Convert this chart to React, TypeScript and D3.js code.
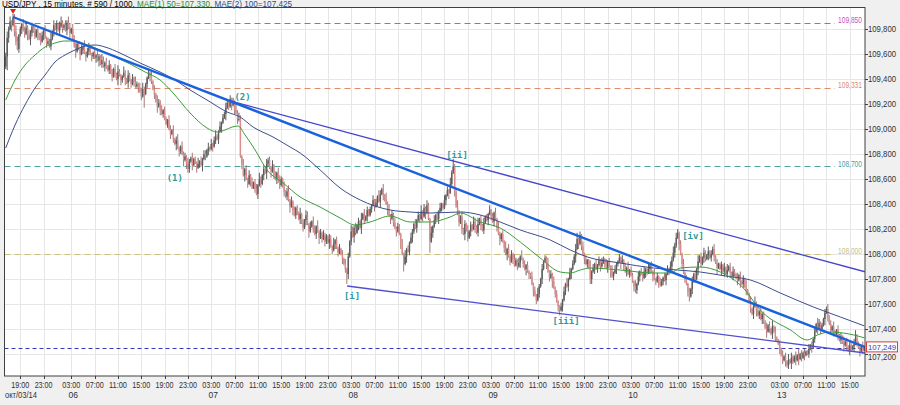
import React from 'react';
import * as d3 from 'd3';

// ---- data (prices in hundredths of a yen above BASE) ----
const BASE = 107;
const firstOpen = 250;
const closeHundredths: number[] = [
  258, 273, 280, 286, 283, 289, 278, 270, 264, 275,
  280, 284, 279, 276, 281, 275, 272, 277, 282, 278,
  274, 279, 276, 272, 270, 275, 279, 273, 268, 270,
  266, 272, 278, 283, 280, 284, 279, 282, 285, 281,
  283, 279, 285, 281, 277, 280, 274, 266, 262, 268,
  264, 260, 263, 266, 261, 258, 262, 265, 260, 258,
  261, 257, 259, 255, 258, 252, 255, 250, 253, 249,
  247, 251, 245, 242, 248, 244, 240, 246, 243, 239,
  242, 245, 240, 237, 243, 239, 236, 241, 238, 234,
  236, 233, 230, 226, 232, 228, 236, 241, 245, 243,
  238, 232, 228, 222, 218, 221, 215, 212, 215, 208,
  204, 207, 200, 196, 199, 192, 188, 191, 185, 182,
  186, 180, 175, 178, 172, 168, 174, 177, 171, 176,
  173, 169, 172, 174, 171, 176, 180, 178, 183, 185,
  184, 188, 186, 191, 194, 192, 198, 202, 205, 209,
  212, 217, 221, 218, 224, 219, 222, 215, 213, 208,
  208, 178, 172, 163, 168, 160, 156, 163, 158, 153,
  157, 152, 148, 155, 160, 156, 163, 168, 165, 172,
  175, 169, 166, 171, 163, 160, 165, 158, 155, 160,
  154, 150, 146, 150, 143, 138, 142, 135, 131, 137,
  133, 128, 132, 125, 121, 127, 131, 124, 118, 122,
  126, 120, 116, 122, 118, 113, 117, 112, 115, 110,
  114, 109, 112, 106, 103, 108, 111, 105, 101, 104,
  100, 96, 92, 88, 84, 98, 110, 118, 114, 121,
  117, 123, 126, 121, 128, 132, 127, 130, 135, 131,
  136, 139, 143, 138, 141, 146, 142, 148, 152, 147,
  144, 140, 136, 131, 128, 132, 125, 121, 118, 122,
  116, 108, 100, 92, 98, 104, 102, 109, 113, 118,
  124, 121, 127, 131, 128, 134, 130, 137, 133, 139,
  128, 110, 117, 122, 127, 131, 128, 134, 137, 140,
  137, 143, 147, 151, 149, 156, 165, 170, 150, 138,
  132, 125, 130, 120, 116, 124, 119, 113, 118, 123,
  120, 126, 122, 117, 124, 128, 123, 119, 125, 130,
  127, 132, 135, 130, 126, 133, 128, 121, 116, 112,
  116, 110, 105, 100, 104, 98, 94, 100, 96, 91,
  95, 90, 93, 98, 96, 92, 88, 91, 86, 84,
  82, 76, 71, 67, 63, 68, 74, 80, 88, 94,
  97, 92, 86, 81, 84, 78, 73, 68, 62, 58,
  55, 58, 63, 70, 76, 74, 80, 85, 88, 92,
  98, 104, 112, 108, 115, 106, 100, 96, 92, 95,
  90, 80, 86, 89, 92, 88, 91, 95, 90, 93,
  96, 92, 89, 94, 90, 86, 82, 85, 88, 92,
  94, 97, 93, 95, 90, 86, 89, 84, 87, 83,
  78, 74, 71, 76, 82, 86, 84, 81, 86, 88,
  85, 88, 91, 86, 83, 80, 78, 82, 77, 75,
  78, 81, 79, 84, 88, 86, 90, 95, 101, 107,
  113, 117, 108, 100, 92, 85, 80, 76, 70, 66,
  72, 78, 84, 80, 88, 94, 98, 92, 97, 101,
  96, 99, 102, 97, 100, 104, 98, 93, 89, 92,
  88, 91, 86, 89, 84, 87, 90, 85, 82, 86,
  84, 81, 79, 83, 78, 76, 80, 74, 71, 68,
  62, 56, 52, 58, 61, 55, 51, 54, 48, 52,
  46, 41, 38, 43, 40, 36, 42, 38, 33, 31,
  28, 24, 19, 15, 18, 14, 11, 15, 13, 17,
  14, 18, 15, 19, 16, 20, 17, 21, 19, 22,
  20, 24, 27, 25, 32, 38, 44, 41, 45, 40,
  43, 48, 53, 56, 50, 44, 39, 42, 38, 36,
  39, 35, 31, 34, 29, 27, 30, 26, 23, 27,
  24, 26, 28, 33, 29, 25, 22, 26, 23, 24.9,
];

// upper / lower wick lengths in hundredths, one digit per bar
const hiWick =
  '3524163541 2143524231 4131532413 2514131452 1425314132 2141513421 1314215314 2413141521 1521421314 2143521151 ' +
  '4131532413 2143141351 1423152141 2151413314 1413521413 2431413152 5314131413 1341521314 2314131452 1413514131 ' +
  '2151314314 1431513142 2143151314 1314131542 4131514131 2141315314 1524131413 2141513142 1413151314 2151413141 ' +
  '1413152521 5314131413 1431513141 2141314152 1315141314 2141513131 1413152141 2151314131 1314151413 2451314131 ' +
  '1513141314 2141315131 1314131513 2151413141 1413151314 2141314352 4313141313 1413151314 2141314131 1314151314 ' +
  '2141313151 1413514131 2141315141 1314131514 2141513131 1413141531 2131413141 1413151314 2141313141';
const loWick =
  '2141514313 1413141531 2151314131 1314151314 2141413151 1513141314 2141513141 1314131514 2151413141 1413141315 ' +
  '2141514131 1314131514 2151413141 1413151314 2141314151 1513141314 2141513141 1314131415 2151314131 1413151413 ' +
  '2141314151 1314151314 2151314131 1413141315 2141513141 1314131514 2151413141 1413151314 2141314151 1514131413 ' +
  '2141513141 1314151314 2151314131 1413141315 2141513141 1314131514 2151413141 1413151314 2141314151 1514131413 ' +
  '2141513141 1314151314 2151314131 1413141315 2141513141 1314131514 2151413141 1413151314 2141314151 1514131413 ' +
  '2141513141 1314151314 2151314131 1413141315 2141513141 1314131514 2151413141 1413151314 2141314131';
const highSpikeBars = [5, 98, 154, 307, 394, 461, 485, 563, 583];
const highSpikeValues = [292, 248, 227, 176, 118, 120, 106, 58, 39];
const lowSpikeBars = [1, 95, 125, 234, 273, 291, 364, 380, 401, 432, 469, 536];
const lowSpikeValues = [247, 217, 165, 76, 86, 101, 60, 51, 76, 69, 62, 9];

// moving averages (bar index, price)
const ma50Bars = [0, 6.4, 13.2, 20.1, 27, 33.8, 40.7, 47.5, 54.4, 64.7, 75, 85.3, 95.6, 105.9, 114.8, 126.5, 138.1, 145, 150.5, 155.3, 159.4, 164.2, 171.1, 179.3, 190.3, 202, 215.7, 229.4, 239.7, 250, 263.7, 277.5, 291.2, 304.9, 311.8, 325.5, 339.2, 353, 366.7, 380.4, 387.3, 394.2, 401, 421.6, 444.3, 455.9, 462.8, 476.5, 490.2, 504, 519.7, 538.3, 549.9, 556.8, 565.7, 574.6, 589];
const ma50Values = [109.232, 109.392, 109.512, 109.592, 109.656, 109.688, 109.704, 109.704, 109.68, 109.632, 109.576, 109.52, 109.456, 109.392, 109.288, 109.128, 109.008, 108.976, 108.992, 109.016, 109.024, 108.952, 108.832, 108.672, 108.568, 108.456, 108.376, 108.288, 108.232, 108.256, 108.304, 108.256, 108.256, 108.296, 108.328, 108.256, 108.208, 108.096, 107.968, 107.856, 107.848, 107.872, 107.888, 107.872, 107.848, 107.848, 107.888, 107.896, 107.856, 107.752, 107.528, 107.392, 107.312, 107.352, 107.376, 107.368, 107.33];
const ma100Bars = [0, 6.4, 13.2, 20.1, 27, 33.8, 40.7, 47.5, 54.4, 61.3, 68.1, 78.4, 92.2, 105.9, 116.2, 126.5, 138.1, 151.9, 160.8, 169.7, 183.4, 195.1, 202, 215.7, 229.4, 243.2, 263.7, 277.5, 291.2, 311.8, 325.5, 339.2, 353, 373.6, 387.3, 399, 421.6, 444.3, 460.7, 476.5, 493.7, 510.9, 531.4, 554.1, 572.6, 589];
const ma100Values = [108.848, 109.032, 109.192, 109.328, 109.432, 109.536, 109.592, 109.632, 109.664, 109.672, 109.656, 109.608, 109.528, 109.456, 109.392, 109.312, 109.232, 109.136, 109.096, 109.016, 108.936, 108.856, 108.808, 108.672, 108.528, 108.432, 108.352, 108.336, 108.328, 108.336, 108.312, 108.256, 108.192, 108.112, 108.032, 107.976, 107.928, 107.888, 107.872, 107.856, 107.824, 107.792, 107.688, 107.576, 107.496, 107.425];

// trend lines: [bar0, price0, bar1, price1]
const trendMain = [5, 109.896, 589.5, 107.256];
const trendUpper = [154, 109.224, 589.5, 107.858];
const trendLower = [234.2, 107.744, 589.5, 107.208];

// horizontal levels
const levelValues = [109.85, 109.331, 108.7, 108.0];
const levelColors = ['#c455c4', '#e08a6a', '#4aa3a3', '#c9c27a'];
const lastPrice = 107.249;

// wave labels
const waveText = ['(1)', '(2)', '[i]', '[ii]', '[iii]', '[iv]'];
const waveBars = [116, 162.5, 237.6, 309.6, 384.4, 471.5];
const wavePrices = [108.61, 109.256, 107.664, 108.792, 107.464, 108.144];

// axes
const priceTicks = [107.2, 107.4, 107.6, 107.8, 108.0, 108.2, 108.4, 108.6, 108.8, 109.0, 109.2, 109.4, 109.6, 109.8];
const timeTickBars = [10, 26, 45, 61, 77, 93, 109, 125, 141, 157, 173, 189, 205, 221, 237, 253, 269, 285, 301, 317, 333, 349, 365, 381, 397, 413, 429, 445, 461, 477, 493, 509, 531, 547, 563, 579];
const timeTickLabels = ['19:00', '23:00', '03:00', '07:00', '11:00', '15:00', '19:00', '23:00', '03:00', '07:00', '11:00', '15:00', '19:00', '23:00', '03:00', '07:00', '11:00', '15:00', '19:00', '23:00', '03:00', '07:00', '11:00', '15:00', '19:00', '23:00', '03:00', '07:00', '11:00', '15:00', '19:00', '23:00', '03:00', '07:00', '11:00', '15:00'];
const dayBars = [45, 141, 237, 333, 429, 531];
const dayLabels = ['06', '07', '08', '09', '10', '13'];
const firstDayLabel = 'окт/03/14';

const W = 900, H = 405;
const PL = 4.5, PR = 865, PT = 7.5, PB = 376;
const FONT = "'Liberation Sans', Arial, sans-serif";

const fmt = (v: number) => d3.format('.3f')(v).replace('.', ',');

export default function App() {
  const x = d3.scaleLinear().domain([-0.5, 589.5]).range([5, 865]);
  const y = d3.scaleLinear().domain([107.2, 109.8]).range([354, 29]);
  const hw = hiWick.replace(/\s/g, '');
  const lw = loWick.replace(/\s/g, '');

  const bars = closeHundredths.map((c, i) => {
    const o = i === 0 ? firstOpen : closeHundredths[i - 1];
    let hi = Math.max(o, c) + Number(hw[i] || 1);
    let lo = Math.min(o, c) - Number(lw[i] || 1);
    const hk = highSpikeBars.indexOf(i);
    if (hk >= 0) hi = highSpikeValues[hk];
    const lk = lowSpikeBars.indexOf(i);
    if (lk >= 0) lo = lowSpikeValues[lk];
    return { i, o: BASE + o / 100, c: BASE + c / 100, h: BASE + hi / 100, l: BASE + lo / 100 };
  });

  const maLine = d3.line<[number, number]>().x(d => x(d[0])).y(d => y(d[1])).curve(d3.curveMonotoneX);
  const ma50 = maLine(ma50Bars.map((b, k) => [b, ma50Values[k]] as [number, number])) || '';
  const ma100 = maLine(ma100Bars.map((b, k) => [b, ma100Values[k]] as [number, number])) || '';

  const seg = (t: number[]) => ({ x1: x(t[0]), y1: y(t[1]), x2: x(t[2]), y2: y(t[3]) });
  const hiBar = bars.reduce((a, b) => (b.h > a.h ? b : a), bars[0]);

  return (
    <svg width={W} height={H} style={{ position: 'absolute', left: 0, top: 0 }} fontFamily={FONT}>
      <defs>
        <clipPath id="plot"><rect x={PL} y={PT} width={PR - PL} height={PB - PT} /></clipPath>
      </defs>
      <rect x={0} y={0} width={W} height={H} fill="#f0f0f0" />
      <rect x={PL} y={PT} width={PR - PL} height={PB - PT} fill="#ffffff" />

      {/* header */}
      <text x={2} y={7} fontSize={8.5} fill="#000" textLength={290} lengthAdjust="spacingAndGlyphs">
        USD/JPY , 15 minutes, # 590 / 1000,{' '}
        <tspan fill="#2e8b2e">MAE(1) 50=107,330,</tspan>{' '}
        <tspan fill="#2c4a8a">MAE(2) 100=107,425</tspan>
      </text>

      <g clipPath="url(#plot)">
        {/* grid */}
        {priceTicks.map(p => (
          <line key={'hg' + p} x1={PL} x2={PR} y1={Math.round(y(p)) + 0.5} y2={Math.round(y(p)) + 0.5} stroke="#e6e6e6" />
        ))}
        {timeTickBars.map((b, k) => (
          <line key={'vg' + k} x1={Math.round(x(b)) + 0.5} x2={Math.round(x(b)) + 0.5} y1={PT} y2={PB} stroke="#e6e6e6" />
        ))}

        {/* horizontal levels */}
        {levelValues.map((v, k) => (
          <g key={'lv' + k}>
            <line x1={PL} x2={PR - 30} y1={Math.round(y(v)) + 0.5} y2={Math.round(y(v)) + 0.5} stroke={levelColors[k]} strokeWidth={1.2} strokeDasharray="6,4" />
            <text x={PR - 3} y={y(v)} fontSize={8.5} fill={levelColors[k]} textAnchor="end" textLength={24} lengthAdjust="spacingAndGlyphs">{fmt(v)}</text>
          </g>
        ))}
        <line x1={PL} x2={PR} y1={Math.round(y(lastPrice)) + 0.5} y2={Math.round(y(lastPrice)) + 0.5} stroke="#3a3ab8" strokeDasharray="4,3" />

        {/* candles */}
        {bars.map(b => {
          const up = b.c >= b.o;
          const cx = x(b.i);
          const top = y(Math.max(b.o, b.c));
          const bot = y(Math.min(b.o, b.c));
          return (
            <g key={'c' + b.i}>
              <line x1={cx} x2={cx} y1={y(b.h)} y2={y(b.l)} stroke={up ? '#4a4a4a' : '#9a6a6a'} strokeWidth={0.9} />
              <rect x={cx - 0.7} y={top} width={1.4} height={Math.max(0.8, bot - top)} fill={up ? '#5c5c5c' : '#e08a8a'} />
            </g>
          );
        })}

        {/* moving averages */}
        <path d={ma100} fill="none" stroke="#3b4d8c" strokeWidth={1} />
        <path d={ma50} fill="none" stroke="#3a9c3a" strokeWidth={1} />

        {/* trend lines */}
        <line {...seg(trendUpper)} stroke="#4545cf" strokeWidth={1.3} />
        <line {...seg(trendLower)} stroke="#5050cc" strokeWidth={1.3} />
        <line {...seg(trendMain)} stroke="#1a62dc" strokeWidth={2.4} />

        {/* wave labels */}
        {waveText.map((t, k) => (
          <text key={'w' + k} x={x(waveBars[k])} y={y(wavePrices[k]) + 3} fontSize={9} fontWeight="bold" fill="#2a9a9a" textAnchor="middle" fontFamily="'DejaVu Sans Mono', monospace">{t}</text>
        ))}

        {/* high marker */}
        <path d={`M${x(hiBar.i) - 3},${PT + 1.5} L${x(hiBar.i) + 3},${PT + 1.5} L${x(hiBar.i)},${PT + 6.5} Z`} fill="#e02020" />
      </g>

      {/* frame */}
      <rect x={PL} y={PT} width={PR - PL} height={PB - PT} fill="none" stroke="#404040" />

      {/* right axis */}
      {priceTicks.map(p => (
        <g key={'yt' + p}>
          <line x1={PR} x2={PR + 3} y1={Math.round(y(p)) + 0.5} y2={Math.round(y(p)) + 0.5} stroke="#404040" />
          <text x={PR + 3} y={p === 107.2 ? y(p) + 5.5 : y(p) + 3} fontSize={8.5} fill="#303030" textLength={28} lengthAdjust="spacingAndGlyphs">{fmt(p)}</text>
        </g>
      ))}
      <rect x={866.5} y={y(lastPrice) - 6} width={31} height={10} fill="#ffffff" stroke="#e03a3a" />
      <text x={868} y={y(lastPrice) + 2.2} fontSize={8} fill="#2244c4" textLength={28} lengthAdjust="spacingAndGlyphs">{fmt(lastPrice)}</text>

      {/* bottom axis */}
      {timeTickBars.map((b, k) => (
        <g key={'xt' + k}>
          <line x1={Math.round(x(b)) + 0.5} x2={Math.round(x(b)) + 0.5} y1={PB} y2={PB + 3} stroke="#404040" />
          <text x={x(b)} y={388} fontSize={8.5} fill="#303030" textAnchor="middle" textLength={18} lengthAdjust="spacingAndGlyphs">{timeTickLabels[k]}</text>
        </g>
      ))}
      <text x={5} y={398} fontSize={8.5} fill="#303030" textLength={32} lengthAdjust="spacingAndGlyphs">{firstDayLabel}</text>
      {dayBars.map((b, k) => (
        <text key={'d' + k} x={x(b) + 2} y={398} fontSize={8.5} fill="#303030" textAnchor="middle">{dayLabels[k]}</text>
      ))}
    </svg>
  );
}
